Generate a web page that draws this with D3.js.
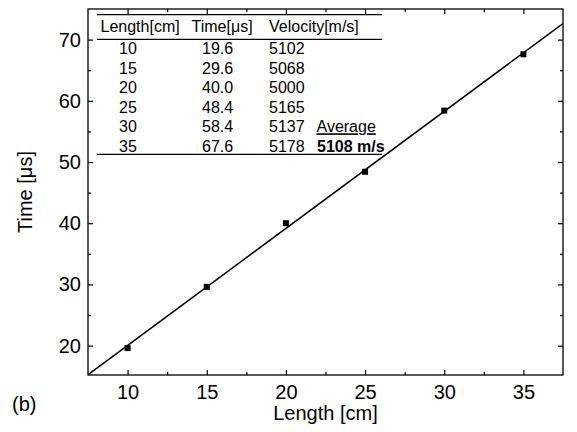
<!DOCTYPE html>
<html>
<head>
  <script src="https://d3js.org/d3.v7.min.js"></script>
  <style>
    body { margin: 0; background: #fff; }
    svg { font-family: "Liberation Sans", Arial, sans-serif; }
    .axis path { display: none; }
    .axis line { stroke: #000; stroke-width: 1.2; }
    .axis text { font-size: 20px; fill: #000; }
    .tbl { font-size: 16px; fill: #000; }
  </style>
</head>
<body>
  <svg width="577" height="432"></svg>
  <script>
    // measured data
    var lengths = [10, 15, 20, 25, 30, 35];
    var times = [19.6, 29.6, 40.0, 48.4, 58.4, 67.6];
    var velocities = [5102, 5068, 5000, 5165, 5137, 5178];
    var xTicks = [10, 15, 20, 25, 30, 35];
    var xMinor = [12.5, 17.5, 22.5, 27.5, 32.5];
    var yTicks = [20, 30, 40, 50, 60, 70];
    var yMinor = [25, 35, 45, 55, 65];
    var tableHeader = ["Length[cm]", "Time[\u03bcs]", "Velocity[m/s]"];
    var timeLabels = ["19.6", "29.6", "40.0", "48.4", "58.4", "67.6"];

    var svg = d3.select("svg"),
      margin = {top: 9, right: 14, bottom: 57, left: 88},
      width = +svg.attr("width") - margin.left - margin.right,
      height = +svg.attr("height") - margin.top - margin.bottom;

    var x = d3.scaleLinear().domain([7.5, 37.5]).range([0, width]),
      y = d3.scaleLinear().domain([15.2, 75]).range([height, 0]);

    var g = svg.append("g")
      .attr("transform", "translate(" + margin.left + "," + margin.top + ")");

    g.append("clipPath").attr("id", "clip")
      .append("rect").attr("width", width).attr("height", height);

    // axes, ticks pointing inward on all four sides
    g.append("g").attr("class", "axis")
      .attr("transform", "translate(0," + height + ")")
      .call(d3.axisBottom(x).tickValues(xTicks).tickSize(-5).tickPadding(10));
    g.append("g").attr("class", "axis")
      .attr("transform", "translate(0," + height + ")")
      .call(d3.axisBottom(x).tickValues(xMinor).tickSize(-3).tickFormat(""));
    g.append("g").attr("class", "axis")
      .call(d3.axisTop(x).tickValues(xTicks).tickSize(-5).tickFormat(""));
    g.append("g").attr("class", "axis")
      .call(d3.axisTop(x).tickValues(xMinor).tickSize(-3).tickFormat(""));

    g.append("g").attr("class", "axis")
      .call(d3.axisLeft(y).tickValues(yTicks).tickSize(-5).tickPadding(7));
    g.append("g").attr("class", "axis")
      .call(d3.axisLeft(y).tickValues(yMinor).tickSize(-3).tickFormat(""));
    g.append("g").attr("class", "axis")
      .attr("transform", "translate(" + width + ",0)")
      .call(d3.axisRight(y).tickValues(yTicks).tickSize(-5).tickFormat(""));
    g.append("g").attr("class", "axis")
      .attr("transform", "translate(" + width + ",0)")
      .call(d3.axisRight(y).tickValues(yMinor).tickSize(-3).tickFormat(""));

    g.append("rect")
      .attr("width", width).attr("height", height)
      .attr("fill", "none").attr("stroke", "#000").attr("stroke-width", 1.3);

    // least squares fit line
    var mx = d3.mean(lengths), my = d3.mean(times);
    var sxy = d3.sum(lengths, function(d, i) { return (d - mx) * (times[i] - my); });
    var sxx = d3.sum(lengths, function(d) { return (d - mx) * (d - mx); });
    var slope = sxy / sxx, icpt = my - slope * mx;
    var xd = x.domain();
    g.append("line")
      .attr("clip-path", "url(#clip)")
      .attr("x1", x(xd[0])).attr("y1", y(icpt + slope * xd[0]))
      .attr("x2", x(xd[1])).attr("y2", y(icpt + slope * xd[1]))
      .attr("stroke", "#000").attr("stroke-width", 1.5);

    g.selectAll(".pt")
      .data(lengths)
      .enter().append("rect")
      .attr("class", "pt")
      .attr("x", function(d) { return x(d) - 3; })
      .attr("y", function(d, i) { return y(times[i]) - 3; })
      .attr("width", 6).attr("height", 6)
      .attr("fill", "#000");

    // axis titles
    svg.append("text")
      .attr("x", margin.left + width / 2).attr("y", 420)
      .attr("text-anchor", "middle").attr("font-size", 20)
      .text("Length [cm]");
    svg.append("text")
      .attr("transform", "translate(32," + (margin.top + height / 2) + ") rotate(-90)")
      .attr("text-anchor", "middle").attr("font-size", 20)
      .text("Time [\u03bcs]");
    svg.append("text")
      .attr("x", 12).attr("y", 411).attr("font-size", 20)
      .text("(b)");

    // inset table
    var t = svg.append("g").attr("class", "tbl");
    [14.7, 39.3, 154.3].forEach(function(yy) {
      t.append("line").attr("x1", 97).attr("x2", 382)
        .attr("y1", yy).attr("y2", yy)
        .attr("stroke", "#000").attr("stroke-width", 1.2);
    });
    var hx = [100.5, 191.5, 269];
    tableHeader.forEach(function(h, i) {
      t.append("text").attr("class", "tbl").attr("x", hx[i]).attr("y", 31.5).text(h);
    });
    lengths.forEach(function(d, i) {
      var by = 54.3 + i * 19.5;
      t.append("text").attr("class", "tbl").attr("x", 119).attr("y", by).text(d);
      t.append("text").attr("class", "tbl").attr("x", 202).attr("y", by).text(timeLabels[i]);
      t.append("text").attr("class", "tbl").attr("x", 269).attr("y", by).text(velocities[i]);
    });
    t.append("text").attr("class", "tbl").attr("x", 316.5).attr("y", 54.3 + 4 * 19.5)
      .attr("text-decoration", "underline").text("Average");
    t.append("text").attr("class", "tbl").attr("x", 317).attr("y", 54.3 + 5 * 19.5)
      .attr("font-weight", "bold").text("5108 m/s");
  </script>
</body>
</html>
